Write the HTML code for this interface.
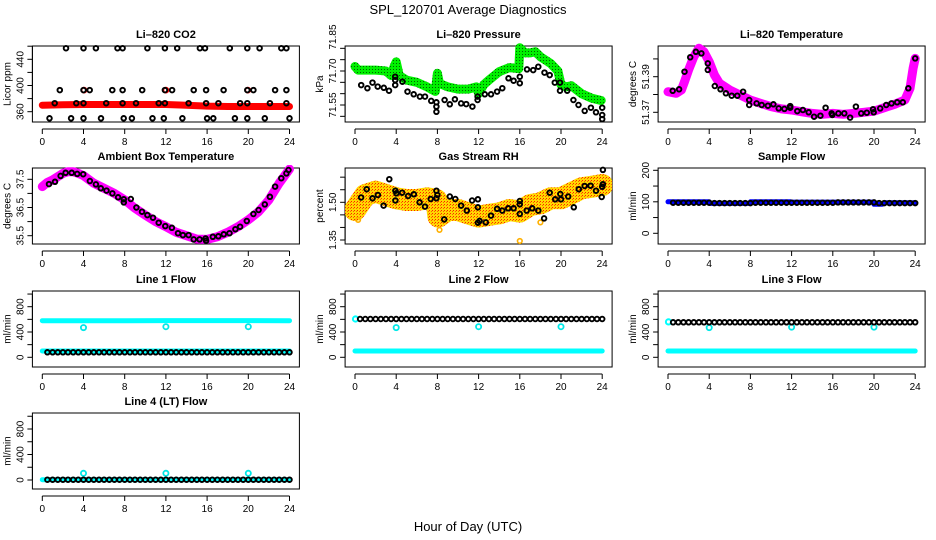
<!DOCTYPE html>
<html>
<head>
<meta charset="utf-8">
<style>
html,body{margin:0;padding:0;background:#fff;}
svg{display:block;font-family:"Liberation Sans",Arial,sans-serif;}
</style>
</head>
<body>
<svg id="chart" width="936" height="540" viewBox="0 0 936 540" xmlns="http://www.w3.org/2000/svg">
<defs>
<pattern id="pat-rh" width="3" height="3" patternUnits="userSpaceOnUse"><rect width="3" height="3" fill="#ffd800"/><rect width="1" height="1" fill="#ff2000"/><rect x="2" y="1" width="1" height="1" fill="#ff6000"/></pattern>
<pattern id="pat-green" width="3" height="3" patternUnits="userSpaceOnUse"><rect width="3" height="3" fill="#00f000"/><rect width="1" height="1" fill="#006000"/></pattern>
</defs>
<rect x="0" y="0" width="936" height="540" fill="#fff"/>
<text x="468" y="14" text-anchor="middle" font-size="13">SPL_120701  Average Diagnostics</text>
<text x="468" y="531" text-anchor="middle" font-size="13">Hour of Day (UTC)</text>
</svg>
<script>
// ---------- DATA ----------
const xTicks = [0,4,8,12,16,20,24];

// CO2
const co2RedHours = [0,2,4,6,8,10,12,14,16,18,20,22,24];
const co2RedValues = [370,370.5,371,371,371,371,371,370,368.5,368,368,368,368];
const co2RedOutHours = [4.05,12.0,19.95];
const co2RedOutValues = [393,393,393];
const co2BlackHours = [2.3,4.0,5.2,7.3,7.8,10.2,11.9,13.1,15.3,15.8,18.2,19.9,21.1,23.2,23.7,
  1.7,4.0,4.6,6.8,7.8,9.7,11.9,12.6,14.7,15.9,17.6,19.9,20.5,22.6,23.7,
  1.2,3.3,4.0,6.2,7.8,9.1,11.3,11.9,14.2,15.9,17.1,19.2,19.9,22.1,23.7,
  0.7,2.8,4.0,5.7,7.9,8.7,10.7,11.8,13.6,16.0,16.6,18.7,19.9,21.6,24.0];
const co2BlackValues = [457,457,457,457,457,457,457,457,457,457,457,457,457,457,457,
  393,393,393,393,393,393,393,393,393,393,393,393,393,393,393,
  373,373,373,373,373,373,373,373,373,373,373,373,373,373,373,
  350,350,350,350,350,350,350,350,350,350,350,350,350,350,350];

// Pressure
const presGreenHours = [0,0.3,1,2,3,3.5,3.8,4,4.3,5,6,7,7.8,8,8.2,9,10,11,11.8,12,12.5,13,14,15,15.9,16,16.5,17,17.5,18,19,19.7,20,20.5,21,22,23,23.9];
const presGreenValues = [71.72,71.704,71.704,71.704,71.70,71.68,71.72,71.74,71.68,71.66,71.65,71.63,71.61,71.69,71.645,71.63,71.62,71.62,71.63,71.60,71.64,71.66,71.697,71.715,71.71,71.803,71.78,71.78,71.785,71.763,71.733,71.70,71.64,71.63,71.635,71.60,71.58,71.57];
const presBlackHours = [0.6,1.2,1.7,2.2,2.8,3.3,3.9,3.9,3.9,4.6,5.1,5.7,6.3,6.8,7.4,7.9,7.9,7.9,8.7,9.2,9.7,10.3,10.8,11.4,11.9,11.9,12.6,13.2,13.8,14.3,14.9,15.4,16.0,16.0,16.7,17.3,17.8,18.4,18.9,19.4,19.9,19.9,20.6,21.2,21.7,22.3,22.9,23.4,24.0,24.0,24.0];
const presBlackValues = [71.638,71.624,71.649,71.631,71.626,71.613,71.638,71.675,71.66,71.653,71.609,71.597,71.587,71.587,71.568,71.562,71.543,71.52,71.572,71.553,71.575,71.557,71.554,71.543,71.572,71.587,71.597,71.597,71.609,71.624,71.668,71.657,71.646,71.675,71.707,71.704,71.719,71.693,71.682,71.649,71.649,71.613,71.613,71.572,71.55,71.524,71.538,71.518,71.538,71.506,71.488];

// Li-820 Temperature
const tempBandHours = [0,0.8,1.3,1.6,2,2.5,3,3.5,4,4.5,5,6,7,8,9,10,11,12,13,14,15,16,17,18,19,20,21,22,23,23.5,23.8,24];
const tempBandValues = [51.3816,51.3807,51.3825,51.3872,51.3938,51.4012,51.4060,51.4040,51.3984,51.3910,51.3863,51.3825,51.3797,51.3769,51.3750,51.3732,51.3719,51.3713,51.3703,51.3694,51.3689,51.3694,51.3689,51.3694,51.3700,51.3707,51.3726,51.3745,51.3769,51.3835,51.3947,51.4003];
const tempBlackHours = [0.46,1.08,1.6,2.16,2.71,3.24,3.86,3.86,4.54,5.1,5.62,6.18,6.73,7.29,7.88,7.88,8.6,9.1,9.7,10.23,10.75,11.3,11.86,11.86,12.55,13.1,13.66,14.18,14.8,15.3,15.88,15.95,16.54,17.12,17.68,18.24,18.76,19.3,19.9,19.97,20.6,21.18,21.7,22.25,22.8,23.33,24.0];
const tempBlackValues = [51.3821,51.3829,51.3928,51.4009,51.4040,51.4031,51.3975,51.3938,51.3848,51.3829,51.3807,51.3793,51.3793,51.3816,51.3769,51.3741,51.3750,51.3741,51.3737,51.3745,51.3722,51.3719,51.3735,51.3726,51.3707,51.3713,51.3700,51.3675,51.3681,51.3726,51.3694,51.3685,51.3694,51.3694,51.3670,51.3732,51.3694,51.3698,51.3717,51.3700,51.3722,51.3741,51.3750,51.3756,51.3756,51.3835,51.4003];

// Ambient Box Temperature
const ambBandHours = [0,0.5,1,2,2.5,3,3.5,4,5,6,7,8,9,10,11,12,13,14,15,16,17,18,19,20,21,22,23,24];
const ambBandValues = [37.24,37.39,37.48,37.71,37.77,37.77,37.71,37.63,37.36,37.18,37.0,36.77,36.47,36.23,36.0,35.82,35.62,35.5,35.38,35.37,35.46,35.62,35.82,36.06,36.35,36.77,37.36,37.86];
const ambBlackHours = [0.65,1.23,1.78,2.26,2.85,3.39,3.97,4.62,5.2,5.68,6.23,6.81,7.36,7.91,7.91,8.59,9.14,9.68,10.2,10.75,11.3,11.94,12.58,13.17,13.65,14.2,14.7,15.27,15.85,15.9,16.55,17.1,17.62,18.17,18.75,19.2,19.85,20.5,21.0,21.6,22.1,22.6,23.2,23.7,23.9];
const ambBlackValues = [37.33,37.41,37.62,37.73,37.73,37.69,37.68,37.44,37.32,37.18,37.1,37.0,36.86,36.79,36.68,36.8,36.5,36.35,36.23,36.14,35.96,35.84,35.78,35.59,35.52,35.52,35.37,35.37,35.4,35.32,35.46,35.48,35.55,35.59,35.73,35.82,36.02,36.27,36.41,36.61,36.88,37.24,37.54,37.71,37.83];

// Gas Stream RH
const rhBandHours = [0,1,2,3,4,5,6,7,7.9,8.1,9,10,11,12,13,14,15,16,17,18,19,20,21,22,23,24];
const rhBandValues = [1.4695,1.529,1.542,1.529,1.516,1.509,1.509,1.516,1.509,1.443,1.4695,1.4695,1.456,1.443,1.450,1.456,1.4695,1.463,1.489,1.496,1.516,1.516,1.536,1.556,1.562,1.569];
const rhOutHours = [16.0,8.2,18.0,0.3];
const rhOutValues = [1.346,1.39,1.42,1.43];
const rhBlackHours = [0.59,1.14,1.7,2.22,2.78,3.33,3.92,3.92,4.02,4.57,5.16,5.72,6.27,6.8,7.35,7.9,7.9,8.0,8.66,9.2,9.74,10.3,10.85,11.37,11.93,11.93,11.93,12.1,12.7,13.2,13.8,14.3,14.87,15.4,16.0,16.0,16.0,16.67,17.2,17.8,18.36,18.9,19.44,19.93,20.0,20.7,21.24,21.73,22.3,22.87,23.4,23.95,24.0,24.07,24.07];
const rhBlackValues = [1.519,1.552,1.516,1.529,1.487,1.592,1.546,1.507,1.536,1.538,1.525,1.532,1.50,1.483,1.513,1.546,1.516,1.529,1.432,1.523,1.513,1.487,1.467,1.507,1.512,1.480,1.419,1.426,1.420,1.447,1.474,1.467,1.476,1.476,1.505,1.492,1.454,1.467,1.476,1.467,1.436,1.538,1.512,1.533,1.512,1.523,1.480,1.552,1.565,1.566,1.546,1.521,1.562,1.572,1.629];

// Flows
const flowHours = [0.5,1,1.5,2,2.5,3,3.5,4,4.5,5,5.5,6,6.5,7,7.5,8,8.5,9,9.5,10,10.5,11,11.5,12,12.5,13,13.5,14,14.5,15,15.5,16,16.5,17,17.5,18,18.5,19,19.5,20,20.5,21,21.5,22,22.5,23,23.5,24];
const sampleBlueHours = [0,4,4.1,7.9,8,11.9,12,19.9,20,20.8,21,24];
const sampleBlueValues = [100,100,95,95,100,100,99,99,92,92,97,97];
const sampleBlack = [97,97,97,97,97,97,97,97,96,96,96,96,96,96,96,96,97,97,97,97,97,97,97,97,97,97,97,97,97,97,97,97,98,98,98,98,98,98,98,98,96,96,96,96,96,96,96,96];
const line1Black = [79,79,79,79,79,79,79,79,79,79,79,79,79,79,79,79,79,79,79,79,79,79,79,79,79,79,79,79,79,79,79,79,79,79,79,79,79,79,79,79,79,79,79,79,79,79,79,79];
const line2Black = [605,605,605,605,605,605,605,605,605,605,605,605,605,605,605,605,605,605,605,605,605,605,605,605,605,605,605,605,605,605,605,605,605,605,605,605,605,605,605,605,605,605,605,605,605,605,605,605];
const line3Black = [553,553,553,553,553,553,553,553,553,553,553,553,553,553,553,553,553,553,553,553,553,553,553,553,553,553,553,553,553,553,553,553,553,553,553,553,553,553,553,553,553,553,553,553,553,553,553,553];
const line4Black = [5,5,5,5,5,5,5,5,5,5,5,5,5,5,5,5,5,5,5,5,5,5,5,5,5,5,5,5,5,5,5,5,5,5,5,5,5,5,5,5,5,5,5,5,5,5,5,5];
const line1CyanUpperHours = [0,8,12,16,24];
const line1CyanUpperValues = [578,578,580,580,578];
const cyanLowerHours = [0,24];
const line1CyanLower = [100,100];
const line2CyanLower = [100,100];
const line3CyanLower = [100,100];
const line4CyanLower = [5,5];
const cyanStartHours = [0.05];
const line2CyanStart = [605];
const line3CyanStart = [560];
const cyanOutHours = [4,12,20];
const line1CyanOut = [470,484,484];
const line2CyanOut = [470,484,484];
const line3CyanOut = [470,478,478];
const line4CyanOut = [105,105,105];

// ---------- RENDERING ----------
const NS = 'http://www.w3.org/2000/svg';
const svg = document.getElementById('chart');
const X0 = [42.3, 355, 668];
const PPH = 10.3;
const TOPS = [46, 168, 291, 413];
const BH = 76;

function el(tag, parent) { const e = document.createElementNS(NS, tag); parent.appendChild(e); return e; }

function makePanel(cfg) {
  const g = el('g', svg);
  
  
  const x0 = X0[cfg.col], top = TOPS[cfg.row];
  const left = x0 - 9.9, right = x0 + 24 * PPH + 9.9, bottom = top + BH;
  const sx = h => x0 + h * PPH;
  const k = (cfg.p2 - cfg.p1) / (cfg.v2 - cfg.v1);
  const sy = v => top + cfg.p1 + (v - cfg.v1) * k;
  const box = el('rect', g);
  box.setAttribute('x', left); box.setAttribute('y', top);
  box.setAttribute('width', right - left); box.setAttribute('height', BH);
  box.setAttribute('fill', 'none'); box.setAttribute('stroke', '#000'); box.setAttribute('stroke-width', '1');
  
  
  const t = el('text', g);
  t.setAttribute('x', (left + right) / 2); t.setAttribute('y', top - 8);
  t.setAttribute('text-anchor', 'middle'); t.setAttribute('font-size', '11'); t.setAttribute('font-weight', 'bold');
  t.textContent = cfg.title;
  
  
  const xa = el('g', g);
  
  
  const axY = bottom + 7;
  const xl = el('line', xa);
  xl.setAttribute('x1', sx(xTicks[0])); xl.setAttribute('x2', sx(xTicks[xTicks.length - 1]));
  xl.setAttribute('y1', axY); xl.setAttribute('y2', axY); xl.setAttribute('stroke', '#000');
  xTicks.forEach(v => {
    const tk = el('line', xa);
    tk.setAttribute('x1', sx(v)); tk.setAttribute('x2', sx(v)); tk.setAttribute('y1', axY); tk.setAttribute('y2', axY + 5); tk.setAttribute('stroke', '#000');
    const lb = el('text', xa);
    lb.setAttribute('x', sx(v)); lb.setAttribute('y', axY + 16); lb.setAttribute('text-anchor', 'middle'); lb.setAttribute('font-size', '10');
    lb.textContent = String(v);
    
    
  });
  const ya = el('g', g);
  
  
  const yl = el('line', ya);
  yl.setAttribute('x1', left); yl.setAttribute('x2', left);
  yl.setAttribute('y1', sy(cfg.ticks[0])); yl.setAttribute('y2', sy(cfg.ticks[cfg.ticks.length - 1])); yl.setAttribute('stroke', '#000');
  cfg.ticks.forEach(v => {
    const tk = el('line', ya);
    tk.setAttribute('x1', left - 5); tk.setAttribute('x2', left); tk.setAttribute('y1', sy(v)); tk.setAttribute('y2', sy(v)); tk.setAttribute('stroke', '#000');
  });
  cfg.labels.forEach((v, i) => {
    const lb = el('text', ya);
    const lx = left - 9, ly = sy(v);
    lb.setAttribute('x', lx); lb.setAttribute('y', ly); lb.setAttribute('text-anchor', 'middle'); lb.setAttribute('font-size', '10');
    lb.setAttribute('transform', 'rotate(-90 ' + lx + ' ' + ly + ')');
    lb.textContent = cfg.labelText[i];
    
    
  });
  const yt = el('text', g);
  const tx = left - 22, ty = top + BH / 2;
  yt.setAttribute('x', tx); yt.setAttribute('y', ty); yt.setAttribute('text-anchor', 'middle'); yt.setAttribute('font-size', '10');
  yt.setAttribute('transform', 'rotate(-90 ' + tx + ' ' + ty + ')');
  yt.textContent = cfg.ylab;
  
  
  const clip = el('clipPath', g);
  clip.setAttribute('id', 'clip-' + cfg.name);
  const cr = el('rect', clip);
  cr.setAttribute('x', left); cr.setAttribute('y', top - 3); cr.setAttribute('width', right - left); cr.setAttribute('height', BH + 6);
  const marks = el('g', g);
  marks.setAttribute('clip-path', 'url(#clip-' + cfg.name + ')');
  
  
  return { g: marks, sx, sy };
}

function band(p, hours, vals, color, width, name) {
  const pl = el('polyline', p.g);
  pl.setAttribute('points', hours.map((h, i) => p.sx(h).toFixed(1) + ',' + p.sy(vals[i]).toFixed(1)).join(' '));
  pl.setAttribute('fill', 'none'); pl.setAttribute('stroke', color); pl.setAttribute('stroke-width', width);
  pl.setAttribute('stroke-linecap', 'round'); pl.setAttribute('stroke-linejoin', 'round');
  
  
}

function points(p, hours, vals, color, r, sw, name) {
  const gg = el('g', p.g);
  
  
  hours.forEach((h, i) => {
    const c = el('circle', gg);
    c.setAttribute('cx', p.sx(h).toFixed(1)); c.setAttribute('cy', p.sy(vals[i]).toFixed(1)); c.setAttribute('r', r);
    c.setAttribute('fill', 'none'); c.setAttribute('stroke', color); c.setAttribute('stroke-width', sw);
    
    
  });
}

const flowTicks = [0,200,400,600,800,1000];
const flowLabels = [0,400,800];
const flowLabelText = ['0','400','800'];
const BSW = 1.9;

const p1 = makePanel({name:'co2', col:0, row:0, title:'Li\u2013820 CO2', ylab:'Licor ppm', v1:360, p1:65.7, v2:440, p2:13.3,
  ticks:[360,380,400,420,440,460], labels:[360,400,440], labelText:['360','400','440']});
band(p1, co2RedHours, co2RedValues, '#ff0000', 7, 'co2-red-series');
points(p1, co2RedOutHours, co2RedOutValues, '#ff0000', 2.5, 1.8, 'co2-red-outliers');
points(p1, co2BlackHours, co2BlackValues, '#000', 2.3, BSW, 'co2-black-series');

const p2 = makePanel({name:'pressure', col:1, row:0, title:'Li\u2013820 Pressure', ylab:'kPa', v1:71.55, p1:59, v2:71.70, p2:25,
  ticks:[71.50,71.55,71.60,71.65,71.70,71.75,71.80], labels:[71.55,71.70,71.85], labelText:['71.55','71.70','71.85']});
band(p2, presGreenHours, presGreenValues, 'url(#pat-green)', 9, 'pressure-green-series');
points(p2, presBlackHours, presBlackValues, '#000', 2.3, BSW, 'pressure-black-series');

const p3 = makePanel({name:'li820-temp', col:2, row:0, title:'Li\u2013820 Temperature', ylab:'degrees C', v1:51.37, p1:66.3, v2:51.39, p2:30.7,
  ticks:[51.37,51.38,51.39,51.40], labels:[51.37,51.39], labelText:['51.37','51.39']});
band(p3, tempBandHours, tempBandValues, '#ff00ff', 9, 'li820-temp-magenta-series');
points(p3, tempBlackHours, tempBlackValues, '#000', 2.3, BSW, 'li820-temp-black-series');

const p4 = makePanel({name:'ambient-temp', col:0, row:1, title:'Ambient Box Temperature', ylab:'degrees C', v1:35.5, p1:67.7, v2:37.5, p2:11.3,
  ticks:[35.5,36,36.5,37,37.5], labels:[35.5,36.5,37.5], labelText:['35.5','36.5','37.5']});
band(p4, ambBandHours, ambBandValues, '#ff00ff', 9, 'ambient-temp-magenta-series');
points(p4, ambBlackHours, ambBlackValues, '#000', 2.3, BSW, 'ambient-temp-black-series');

const p5 = makePanel({name:'rh', col:1, row:1, title:'Gas Stream RH', ylab:'percent', v1:1.35, p1:72, v2:1.50, p2:34.3,
  ticks:[1.35,1.40,1.45,1.50,1.55,1.60], labels:[1.35,1.50], labelText:['1.35','1.50']});
band(p5, rhBandHours, rhBandValues, 'url(#pat-rh)', 22, 'rh-orange-series');
points(p5, rhOutHours, rhOutValues, '#ffb000', 2.3, 1.6, 'rh-orange-outliers');
points(p5, rhBlackHours, rhBlackValues, '#000', 2.3, BSW, 'rh-black-series');

const p6 = makePanel({name:'sample-flow', col:2, row:1, title:'Sample Flow', ylab:'ml/min', v1:0, p1:65.3, v2:200, p2:2.3,
  ticks:[0,50,100,150,200], labels:[0,100,200], labelText:['0','100','200']});
band(p6, sampleBlueHours, sampleBlueValues, '#0000ff', 5, 'sample-flow-blue-series');
points(p6, flowHours, sampleBlack, '#000', 2.3, BSW, 'sample-flow-black-series');

const p7 = makePanel({name:'line1-flow', col:0, row:2, title:'Line 1 Flow', ylab:'ml/min', v1:0, p1:66.3, v2:800, p2:15.7,
  ticks:flowTicks, labels:flowLabels, labelText:flowLabelText});
band(p7, line1CyanUpperHours, line1CyanUpperValues, '#00ffff', 5, 'line1-cyan-upper-series');
band(p7, cyanLowerHours, line1CyanLower, '#00ffff', 5, 'line1-cyan-lower-series');
points(p7, cyanOutHours, line1CyanOut, '#00e8e8', 2.6, 1.8, 'line1-cyan-outliers');
points(p7, flowHours, line1Black, '#000', 2.3, BSW, 'line1-black-series');

const p8 = makePanel({name:'line2-flow', col:1, row:2, title:'Line 2 Flow', ylab:'ml/min', v1:0, p1:66.3, v2:800, p2:15.7,
  ticks:flowTicks, labels:flowLabels, labelText:flowLabelText});
band(p8, cyanLowerHours, line2CyanLower, '#00ffff', 5, 'line2-cyan-lower-series');
points(p8, cyanStartHours, line2CyanStart, '#00ffff', 2.6, 2, 'line2-cyan-start');
points(p8, cyanOutHours, line2CyanOut, '#00e8e8', 2.6, 1.8, 'line2-cyan-outliers');
points(p8, flowHours, line2Black, '#000', 2.3, BSW, 'line2-black-series');

const p9 = makePanel({name:'line3-flow', col:2, row:2, title:'Line 3 Flow', ylab:'ml/min', v1:0, p1:66.3, v2:800, p2:15.7,
  ticks:flowTicks, labels:flowLabels, labelText:flowLabelText});
band(p9, cyanLowerHours, line3CyanLower, '#00ffff', 5, 'line3-cyan-lower-series');
points(p9, cyanStartHours, line3CyanStart, '#00ffff', 2.6, 2, 'line3-cyan-start');
points(p9, cyanOutHours, line3CyanOut, '#00e8e8', 2.6, 1.8, 'line3-cyan-outliers');
points(p9, flowHours, line3Black, '#000', 2.3, BSW, 'line3-black-series');

const p10 = makePanel({name:'line4-flow', col:0, row:3, title:'Line 4 (LT) Flow', ylab:'ml/min', v1:0, p1:67, v2:800, p2:16,
  ticks:flowTicks, labels:flowLabels, labelText:flowLabelText});
band(p10, cyanLowerHours, line4CyanLower, '#00ffff', 5, 'line4-cyan-series');
points(p10, cyanOutHours, line4CyanOut, '#00e8e8', 2.6, 1.8, 'line4-cyan-outliers');
points(p10, flowHours, line4Black, '#000', 2.3, BSW, 'line4-black-series');
</script>
</body>
</html>
